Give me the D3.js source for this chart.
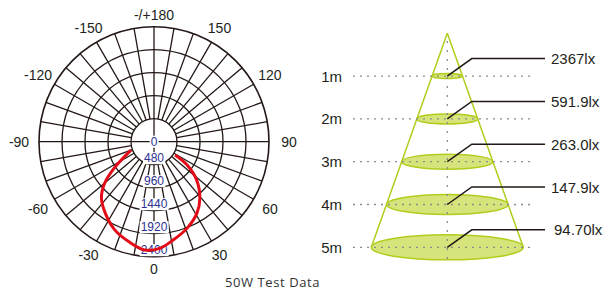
<!DOCTYPE html>
<html>
<head>
<meta charset="utf-8">
<script src="https://cdn.jsdelivr.net/npm/d3@7"></script>
<style>
    body { margin: 0; background: #fff; }
    svg text { font-family: "Liberation Sans", Arial, sans-serif; }
</style>
</head>
<body>
<div id="chart"></div>
<script>

// polar plot data
var ringValues = [0, 480, 960, 1440, 1920, 2400];
var angleTicks = [0, 30, 60, 90, 120, 150, 180, -150, -120, -90, -60, -30];
var curveAngles = [-70, -57, -50, -43, -34, -24, -14, -5, 3, 11, 21, 31, 39, 48, 55, 58];
var curveValues = [511, 966, 1342, 1609, 1811, 2014, 2154, 2268, 2229, 2091, 1932, 1740, 1521, 1198, 839, 520];

// cone data
var distances = [1, 2, 3, 4, 5];
var distLabels = ["1m", "2m", "3m", "4m", "5m"];
var luxLabels = ["2367lx", "591.9lx", "263.0lx", "147.9lx", "94.70lx"];

var title = "50W Test Data";

var width = 613, height = 292;

var svg = d3.select("#chart").append("svg")
    .attr("width", width)
    .attr("height", height);

/* ---------- polar diagram ---------- */
var cx = 154, cy = 141.7, R = 115;
var rad = Math.PI / 180;

var r = d3.scaleLinear()
    .domain([0, 2400])
    .range([0, R]);

var polar = svg.append("g")
    .attr("transform", "translate(" + cx + "," + cy + ")");

var lineColor = "#231815";

// spokes every 10 deg, from the first ring outwards
var spokes = d3.range(0, 360, 10);
polar.selectAll(".spoke")
    .data(spokes)
    .enter().append("line")
    .attr("class", "spoke")
    .attr("x1", function(d){ return r(480) * Math.sin(d * rad); })
    .attr("y1", function(d){ return r(480) * Math.cos(d * rad); })
    .attr("x2", function(d){ return R * Math.sin(d * rad); })
    .attr("y2", function(d){ return R * Math.cos(d * rad); })
    .attr("stroke", lineColor)
    .attr("stroke-width", 1.3);

// cross in the middle
[0, 90].forEach(function(a){
    polar.append("line")
        .attr("x1", -r(480) * Math.sin(a * rad))
        .attr("y1", -r(480) * Math.cos(a * rad))
        .attr("x2", r(480) * Math.sin(a * rad))
        .attr("y2", r(480) * Math.cos(a * rad))
        .attr("stroke", lineColor)
        .attr("stroke-width", 1.3);
});

polar.selectAll(".ring")
    .data(ringValues.filter(function(d){ return d > 0; }))
    .enter().append("circle")
    .attr("class", "ring")
    .attr("r", function(d){ return r(d); })
    .attr("fill", "none")
    .attr("stroke", lineColor)
    .attr("stroke-width", function(d){ return d == 2400 ? 1.6 : 1.3; });

// radial value labels with white box
var vLabels = polar.selectAll(".vlab")
    .data(ringValues)
    .enter().append("g")
    .attr("class", "vlab");

vLabels.append("text")
    .attr("x", 0)
    .attr("y", function(d){ return d == 0 ? 0 : r(d) - 2.5; })
    .attr("dominant-baseline", function(d){ return d == 0 ? "central" : "alphabetic"; })
    .attr("text-anchor", "middle")
    .attr("font-size", "12px")
    .attr("fill", "#2e3192")
    .text(function(d){ return d; });

vLabels.each(function(){
    var g = d3.select(this);
    var bb = g.select("text").node().getBBox();
    g.insert("rect", "text")
        .attr("x", bb.x - 1)
        .attr("y", bb.y + 1)
        .attr("width", bb.width + 2)
        .attr("height", bb.height - 2)
        .attr("fill", "#fff");
});

// angle labels
polar.selectAll(".alab")
    .data(angleTicks)
    .enter().append("text")
    .attr("class", "alab")
    .attr("x", function(d){ var L = 127 + 8 * Math.abs(Math.sin(d * rad)); return L * Math.sin(d * rad); })
    .attr("y", function(d){ var L = 127 + 8 * Math.abs(Math.sin(d * rad)); return L * Math.cos(d * rad); })
    .attr("text-anchor", "middle")
    .attr("dominant-baseline", "central")
    .attr("font-size", "14px")
    .attr("fill", "#231f20")
    .text(function(d){ return d == 180 ? "-/+180" : d; });

// intensity curve
var curve = d3.lineRadial()
    .angle(function(d, i){ return Math.PI - curveAngles[i] * rad; })
    .radius(function(d){ return r(d); })
    .curve(d3.curveCatmullRom);

polar.append("path")
    .datum(curveValues)
    .attr("d", curve)
    .attr("fill", "none")
    .attr("stroke", "#e30b17")
    .attr("stroke-width", 3);

svg.append("text")
    .attr("x", 272.5)
    .attr("y", 286.5)
    .attr("text-anchor", "middle")
    .attr("font-size", "13px")
    .attr("letter-spacing", "0.6px")
    .style("font-family", "'Open Sans', sans-serif")
    .attr("fill", "#333")
    .text(title);

/* ---------- cone ---------- */
var coneX = 447.3;
var green = "#b2cc1c";

var y = d3.scaleLinear()
    .domain([0, 5])
    .range([33.3, 247.3]);

var hw = d3.scaleLinear()
    .domain([0, 5])
    .range([0, 76]);

var cone = svg.append("g");

[-1, 1].forEach(function(s){
    cone.append("line")
        .attr("x1", coneX).attr("y1", y(0))
        .attr("x2", coneX + s * hw(5)).attr("y2", y(5))
        .attr("stroke", green)
        .attr("stroke-width", 1.5);
});

cone.selectAll(".disc")
    .data(distances)
    .enter().append("ellipse")
    .attr("class", "disc")
    .attr("cx", coneX)
    .attr("cy", function(d){ return y(d); })
    .attr("rx", function(d){ return hw(d); })
    .attr("ry", function(d){ return hw(d) * 0.165; })
    .attr("fill", "#d7e47b")
    .attr("stroke", green)
    .attr("stroke-width", 1.5);

cone.selectAll(".hdot")
    .data(distances)
    .enter().append("line")
    .attr("class", "hdot")
    .attr("x1", 353).attr("x2", 535)
    .attr("y1", function(d){ return y(d); })
    .attr("y2", function(d){ return y(d); })
    .attr("stroke", "#8c8c8c")
    .attr("stroke-width", 1.3)
    .attr("stroke-dasharray", "2,5");

cone.append("line")
    .attr("x1", coneX).attr("x2", coneX)
    .attr("y1", 41).attr("y2", 259)
    .attr("stroke", "#8c8c8c")
    .attr("stroke-width", 1.3)
    .attr("stroke-dasharray", "2,7");

cone.selectAll(".leader")
    .data(distances)
    .enter().append("polyline")
    .attr("class", "leader")
    .attr("points", function(d){
        var yy = y(d);
        return [[coneX, yy], [coneX + 24.5, yy - 17.5], [545, yy - 17.5]].join(" ");
    })
    .attr("fill", "none")
    .attr("stroke", "#231815")
    .attr("stroke-width", 1.5);

cone.selectAll(".lux")
    .data(distances)
    .enter().append("text")
    .attr("class", "lux")
    .attr("x", function(d, i){ return i == 4 ? 554 : 551; })
    .attr("y", function(d){ return y(d) - 17.5; })
    .attr("dominant-baseline", "central")
    .attr("font-size", "15px")
    .attr("fill", "#231f20")
    .text(function(d, i){ return luxLabels[i]; });

cone.selectAll(".dist")
    .data(distances)
    .enter().append("text")
    .attr("class", "dist")
    .attr("x", 342)
    .attr("y", function(d){ return y(d); })
    .attr("text-anchor", "end")
    .attr("dominant-baseline", "central")
    .attr("font-size", "15px")
    .attr("fill", "#231f20")
    .text(function(d, i){ return distLabels[i]; });

</script>
</body>
</html>
